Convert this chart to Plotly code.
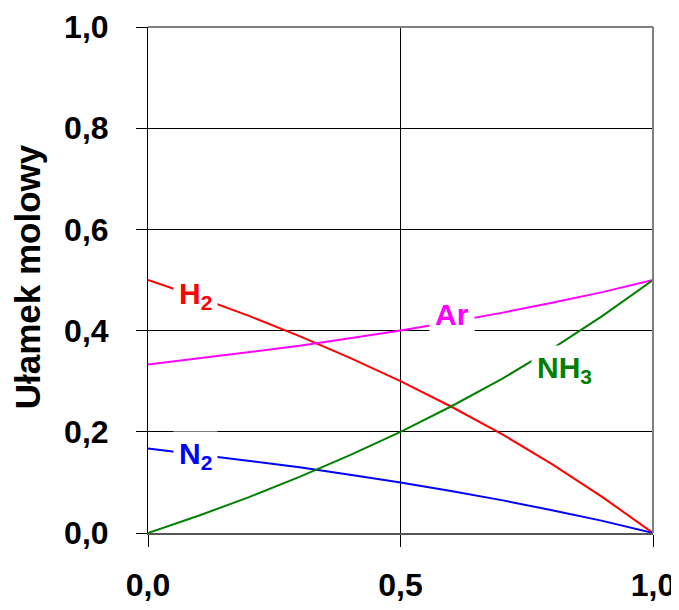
import plotly.graph_objects as go

x_vals = [0.0, 0.1, 0.2, 0.3, 0.4, 0.5, 0.6, 0.7, 0.8, 0.9, 1.0]
h2 = [0.500, 0.466, 0.429, 0.389, 0.346, 0.300, 0.250, 0.196, 0.136, 0.071, 0.0]
n2 = [0.167, 0.155, 0.143, 0.130, 0.115, 0.100, 0.083, 0.065, 0.045, 0.024, 0.0]
ar = [0.333, 0.345, 0.357, 0.370, 0.385, 0.400, 0.417, 0.435, 0.455, 0.476, 0.500]
nh3 = [0.0, 0.034, 0.071, 0.111, 0.154, 0.200, 0.250, 0.304, 0.364, 0.429, 0.500]

y_ticks = [0.0, 0.2, 0.4, 0.6, 0.8, 1.0]
y_tick_text = ["0,0", "0,2", "0,4", "0,6", "0,8", "1,0"]
x_ticks = [0.0, 0.5, 1.0]
x_tick_text = ["0,0", "0,5", "1,0"]

series = [
    ("H<sub>2</sub>", h2, "#FF0000", 0.095, 0.470),
    ("N<sub>2</sub>", n2, "#0000FF", 0.095, 0.153),
    ("Ar", ar, "#FF00FF", 0.602, 0.431),
    ("NH<sub>3</sub>", nh3, "#008000", 0.824, 0.324),
]

font_family = "Liberation Sans, Arial, sans-serif"

fig = go.Figure()
for name, ys, color, lx, ly in series:
    fig.add_trace(go.Scatter(x=x_vals, y=ys, mode="lines", name=name,
                             line=dict(color=color, width=2), showlegend=False))

for name, ys, color, lx, ly in series:
    fig.add_annotation(x=lx, y=ly, xref="x", yref="y", text="<b>" + name + "</b>",
                       showarrow=False, bgcolor="white", borderpad=5,
                       font=dict(family=font_family, size=30, color=color))

# y-axis title
fig.add_annotation(x=-0.237, y=0.506, xref="paper", yref="paper",
                   xanchor="center", yanchor="middle",
                   text="<b>Ułamek molowy</b>", textangle=-90, showarrow=False,
                   font=dict(family=font_family, size=35, color="black"))

# gray frame top/right
fig.add_shape(type="line", xref="paper", yref="paper", x0=0, x1=1, y0=1, y1=1,
              line=dict(color="#808080", width=2))
fig.add_shape(type="line", xref="paper", yref="paper", x0=1, x1=1, y0=0, y1=1,
              line=dict(color="#808080", width=2))

fig.update_layout(
    width=671, height=602,
    margin=dict(l=140, r=26, t=19, b=77, autoexpand=False),
    paper_bgcolor="white", plot_bgcolor="white",
    font=dict(family=font_family, color="black"),
    xaxis=dict(range=[0, 1], tickvals=x_ticks,
               ticktext=["<b>" + t + "</b>" for t in x_tick_text],
               showgrid=True, gridcolor="black", gridwidth=1,
               ticks="outside", ticklen=12, tickcolor="black",
               showline=True, linecolor="#555555", linewidth=2,
               zeroline=False, ticklabelstandoff=11, automargin=False,
               tickfont=dict(family=font_family, size=32, color="black")),
    yaxis=dict(range=[0, 1], tickvals=y_ticks,
               ticktext=["<b>" + t + "</b>" for t in y_tick_text],
               showgrid=True, gridcolor="black", gridwidth=1,
               ticks="outside", ticklen=11, tickcolor="black",
               showline=True, linecolor="black", linewidth=1,
               zeroline=False, ticklabelstandoff=21, automargin=False,
               tickfont=dict(family=font_family, size=32, color="black")),
)

fig.write_html("out.html")
